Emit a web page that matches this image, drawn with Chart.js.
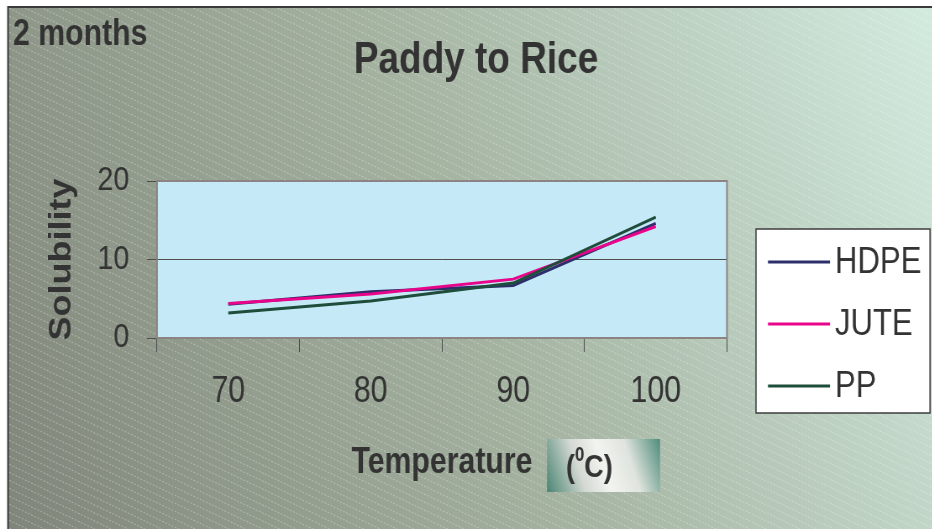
<!DOCTYPE html>
<html>
<head>
<meta charset="utf-8">
<script src="https://cdn.jsdelivr.net/npm/chart.js@4"></script>
<style>
  html, body { margin: 0; padding: 0; background: #fff; overflow: hidden; }
  /* the reference is horizontally condensed; draw wide and squeeze */
  #wrap { width: 1110px; height: 529px; transform: scaleX(0.84); transform-origin: 0 0; }
</style>
</head>
<body>
<div id="wrap"><canvas id="chart" width="1110" height="529"></canvas></div>
<script>
// values
const temps = ['70', '80', '90', '100'];
const hdpe = [4.3, 5.9, 6.7, 14.6];
const jute = [4.4, 5.6, 7.5, 14.2];
const pp = [3.2, 4.7, 7.0, 15.4];
const seriesNames = ['HDPE', 'JUTE', 'PP'];
const seriesColors = ['#2d2f6b', '#e8058a', '#1f4d3b'];
const yTicks = [0, 10, 20];

const SX = 0.84;              // horizontal squeeze
const X = v => v / SX;        // page x -> canvas x
const FONT = '"Liberation Sans", Arial, sans-serif';
const TEXT = '#333333';

const backdrop = {
  id: 'backdrop',
  beforeDraw(chart) {
    const ctx = chart.ctx;
    const W = chart.width, H = chart.height;
    ctx.save();
    ctx.fillStyle = '#ffffff';
    ctx.fillRect(0, 0, W, H);
    const g = ctx.createLinearGradient(X(8), H, W, 7);
    g.addColorStop(0, '#80867a');
    g.addColorStop(0.5, '#a5b3a1');
    g.addColorStop(1, '#d2ebdf');
    ctx.fillStyle = g;
    ctx.fillRect(X(8), 7, W - X(8), H - 7);
    // diagonal dashed stripes
    ctx.beginPath();
    ctx.rect(X(8), 7, W - X(8), H - 7);
    ctx.clip();
    ctx.strokeStyle = 'rgba(255,255,255,0.38)';
    ctx.lineWidth = 1;
    ctx.setLineDash([2, 2]);
    for (let y0 = -500; y0 < H + 20; y0 += 8) {
      ctx.beginPath();
      ctx.moveTo(0, y0);
      ctx.lineTo(W, y0 + W * 0.4);
      ctx.stroke();
    }
    ctx.restore();
    // frame
    ctx.save();
    ctx.strokeStyle = '#3a3a3a';
    ctx.lineWidth = 2;
    ctx.beginPath();
    ctx.moveTo(X(8), H);
    ctx.lineTo(X(8), 7);
    ctx.lineTo(W, 7);
    ctx.stroke();
    // plot area fill
    const a = chart.chartArea;
    ctx.fillStyle = '#c6e9f7';
    ctx.fillRect(a.left, a.top, a.right - a.left, a.bottom - a.top);
    ctx.restore();
  },
  beforeDatasetsDraw(chart) {
    const ctx = chart.ctx;
    const a = chart.chartArea;
    ctx.save();
    ctx.strokeStyle = '#8c8482';
    ctx.lineWidth = 2;
    ctx.strokeRect(a.left, a.top, a.right - a.left, a.bottom - a.top);
    ctx.restore();
  },
  afterDraw(chart) {
    const ctx = chart.ctx;
    ctx.save();
    ctx.fillStyle = TEXT;
    ctx.textBaseline = 'middle';
    // headings
    ctx.font = 'bold 36px ' + FONT;
    ctx.textAlign = 'left';
    ctx.fillText('2 months', X(13), 35);
    ctx.font = 'bold 44px ' + FONT;
    ctx.textAlign = 'center';
    ctx.fillText('Paddy to Rice', X(476), 61);

    // unit box
    const bx = X(547), by = 439, bw = X(113), bh = 53;
    const ug = ctx.createLinearGradient(bx, by + bh, bx + bw, by);
    ug.addColorStop(0, '#4a8473');
    ug.addColorStop(0.3, '#d4d9d3');
    ug.addColorStop(0.5, '#f3f4f0');
    ug.addColorStop(0.72, '#dfe4de');
    ug.addColorStop(1, '#4f8c7b');
    ctx.fillStyle = ug;
    ctx.fillRect(bx, by, bw, bh);
    ctx.fillStyle = TEXT;
    ctx.textAlign = 'left';
    ctx.font = 'bold 32px ' + FONT;
    ctx.fillText('(', X(566), 468);
    let x = X(566) + ctx.measureText('(').width;
    ctx.font = 'bold 20px ' + FONT;
    ctx.fillText('0', x, 455);
    x += ctx.measureText('0').width;
    ctx.font = 'bold 32px ' + FONT;
    ctx.fillText('C)', x, 468);

    // legend
    const lx = X(756), ly = 229, lw = X(174), lh = 184;
    ctx.fillStyle = '#ffffff';
    ctx.fillRect(lx, ly, lw, lh);
    ctx.strokeStyle = '#3c3c3c';
    ctx.lineWidth = 1.5;
    ctx.strokeRect(lx, ly, lw, lh);
    ctx.font = '37px ' + FONT;
    chart.data.datasets.forEach((ds, i) => {
      const yy = 262 + i * 62;
      ctx.strokeStyle = ds.borderColor;
      ctx.lineWidth = 3;
      ctx.beginPath();
      ctx.moveTo(X(768), yy);
      ctx.lineTo(X(830), yy);
      ctx.stroke();
      ctx.fillStyle = TEXT;
      ctx.fillText(ds.label, X(835), yy + 1);
    });
    ctx.restore();
  }
};

const seriesData = [hdpe, jute, pp];

new Chart(document.getElementById('chart'), {
  type: 'line',
  data: {
    labels: temps,
    datasets: seriesNames.map((name, i) => ({
      label: name,
      data: seriesData[i],
      borderColor: seriesColors[i],
      backgroundColor: seriesColors[i],
      borderWidth: 3,
      pointRadius: 0,
      tension: 0,
      order: 2 - i
    }))
  },
  options: {
    responsive: false,
    animation: false,
    layout: { padding: { left: 0, top: 181, right: 1110 - X(727), bottom: 0 } },
    plugins: {
      legend: { display: false },
      title: { display: false },
      tooltip: { enabled: false }
    },
    scales: {
      x: {
        offset: true,
        grid: { offset: true, drawOnChartArea: false, color: '#4d4d4d', tickLength: 14 },
        border: { display: false },
        ticks: { color: TEXT, padding: 22, font: { family: FONT, size: 36, lineHeight: 1 } },
        title: {
          display: true, text: 'Temperature', color: TEXT,
          font: { family: FONT, size: 36, weight: 'bold', lineHeight: 1 },
          padding: { top: 0, bottom: 48 }
        },
        afterFit(s) { s.height = 191; }
      },
      y: {
        min: 0,
        max: 20,
        afterBuildTicks(s) { s.ticks = yTicks.map(v => ({ value: v })); },
        grid: { color: '#4d4d4d', tickLength: 12 },
        border: { display: false },
        ticks: { color: TEXT, padding: 21, font: { family: FONT, size: 34, lineHeight: 1 } },
        title: {
          display: true, text: 'Solubility', color: TEXT,
          font: { family: FONT, size: 36, weight: 'bold', lineHeight: 1 },
          padding: { top: 56, bottom: 0 }
        },
        afterFit(s) { s.width = X(157); }
      }
    }
  },
  plugins: [backdrop]
});
</script>
</body>
</html>
